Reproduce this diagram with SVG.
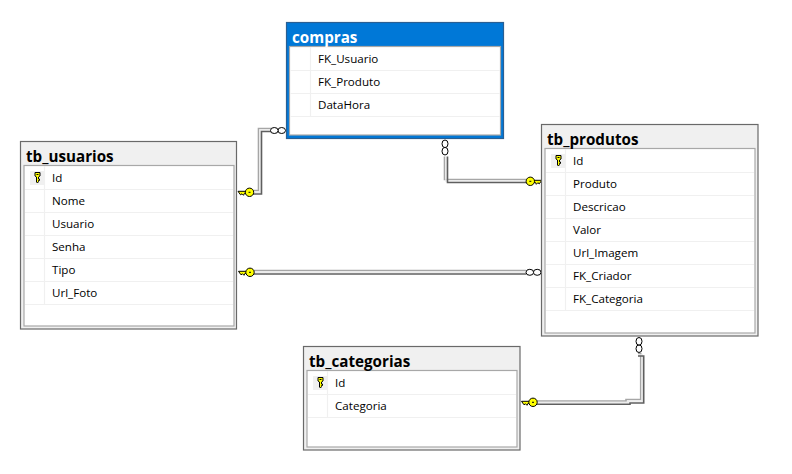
<svg xmlns="http://www.w3.org/2000/svg" xmlns:xlink="http://www.w3.org/1999/xlink" width="792" height="474" viewBox="0 0 792 474">
<style>
text{font-family:"Open Sans","Noto Sans","Liberation Sans",sans-serif}
.t{font-size:15.2px;font-weight:700;fill:#000}
.tw{font-size:15.2px;font-weight:700;fill:#fff}
.c{font-size:11.6px;fill:#000}
.o{fill:#f0f0f0;stroke:#696969;stroke-width:1.2}
.i{fill:#fff;stroke:#a8a8a8;stroke-width:1.2}
.r{stroke:#f0f0f0;stroke-width:1.2;fill:none}
.l1{fill:none;stroke:#a6a6a6;stroke-width:1.6}
.l2{fill:none;stroke:#5f5f5f;stroke-width:1.6}
.l0{fill:none;stroke:#ececec;stroke-width:1.6}
.ring{fill:#fff;stroke:#000;stroke-width:1}
.k{fill:#ffff00;stroke:#000;stroke-width:1}
</style>
<defs>
<g id="pk">
<rect x="-7.500" y="-7" width="15" height="14" fill="#f0f0f0"/>
<path class="k" d="M-2.500 -5.500 H2.500 V-2 L1 -1 V1 H2 V2.500 H1 V3.500 L0 5 L-1 4 V-1 L-2.500 -2Z"/>
<path d="M-1 -3.500H1" stroke="#000" stroke-width="1"/>
</g>
<g id="fk">
<path class="k" d="M-11.500 -1 H-3.500 V1 H-5 L-6 3 L-7.500 1.500 L-9 2.500 Z"/>
<circle class="k" cx="0" cy="0" r="4.200"/>
<path d="M-1 0H1" stroke="#000" stroke-width="1"/>
</g>
<g id="mm">
<ellipse class="ring" cx="3.700" cy="0" rx="3.800" ry="3"/>
<ellipse class="ring" cx="-3.700" cy="0" rx="3.800" ry="3"/>
</g>
</defs>
<rect width="792" height="474" fill="#fff"/>
<g id="connectors">
<g id="c-usuarios-compras">
<path class="l1" d="M253 190.500H258.500V128.500H271"/>
<path class="l0" d="M253 192.300H260V130H271"/>
<path class="l2" d="M253 194H261.500V131.500H271"/>
<use xlink:href="#fk" x="249.500" y="192.300"/>
<use xlink:href="#mm" x="278" y="130.500"/>
</g>
<g id="c-compras-produtos">
<path class="l1" d="M444.500 156.500V179.500H527"/>
<path class="l0" d="M446 156.500V181H527"/>
<path class="l2" d="M447.500 156.500V182.500H527"/>
<use xlink:href="#fk" transform="translate(530.300 181.300) scale(-1 1)"/>
<use xlink:href="#mm" transform="translate(445 147.500) rotate(90)"/>
</g>
<g id="c-usuarios-produtos">
<path class="l1" d="M254 270.500H526"/>
<path class="l0" d="M254 272.200H526"/>
<path class="l2" d="M254 274H526"/>
<use xlink:href="#fk" x="250" y="272.300"/>
<use xlink:href="#mm" x="533.500" y="272.300"/>
</g>
<g id="c-produtos-categorias">
<path class="l1" d="M638 353.500H640.700V399.500H626V401H537"/>
<path class="l0" d="M638 355H642.200V401H628V402.500H537"/>
<path class="l2" d="M638 356H643.700V403H630V404.300H537"/>
<use xlink:href="#fk" x="533" y="402.300"/>
<use xlink:href="#mm" transform="translate(639 345) rotate(90)"/>
</g>
</g>
<g id="tb_usuarios">
<rect class="o" x="20.500" y="141.500" width="216" height="187.500"/>
<rect class="i" x="24" y="165.500" width="210" height="160.500"/>
<path class="r" d="M25 189.500H233M25 212.500H233M25 235.500H233M25 258.500H233M25 281.500H233M25 304.500H233M44.500 166V304"/>
<text class="t" x="26" y="162">tb_usuarios</text>
<use xlink:href="#pk" x="37.500" y="178"/>
<text class="c" x="52" y="182">Id</text>
<text class="c" x="52" y="205">Nome</text>
<text class="c" x="52" y="228">Usuario</text>
<text class="c" x="52" y="251">Senha</text>
<text class="c" x="52" y="274">Tipo</text>
<text class="c" x="52" y="297">Url_Foto</text>
</g>
<g id="compras">
<rect x="286.500" y="22.500" width="217" height="116" fill="#0078d7" stroke="#2a5f93" stroke-width="1.200"/>
<rect class="i" x="289.500" y="46.500" width="211" height="88.500"/>
<path class="r" d="M290.500 70.500H500M290.500 93.500H500M290.500 116.500H500M310.500 47V116"/>
<text class="tw" x="292" y="43">compras</text>
<text class="c" x="318" y="63">FK_Usuario</text>
<text class="c" x="318" y="86">FK_Produto</text>
<text class="c" x="318" y="109">DataHora</text>
</g>
<g id="tb_produtos">
<rect class="o" x="541.500" y="124.500" width="216.500" height="211.500"/>
<rect class="i" x="545" y="148.500" width="210" height="184.500"/>
<path class="r" d="M546 172.500H754M546 195.500H754M546 218.500H754M546 241.500H754M546 264.500H754M546 287.500H754M546 310.500H754M565.500 149V310"/>
<text class="t" x="547" y="145">tb_produtos</text>
<use xlink:href="#pk" x="558.500" y="161"/>
<text class="c" x="573" y="165">Id</text>
<text class="c" x="573" y="188">Produto</text>
<text class="c" x="573" y="211">Descricao</text>
<text class="c" x="573" y="234">Valor</text>
<text class="c" x="573" y="257">Url_Imagem</text>
<text class="c" x="573" y="280">FK_Criador</text>
<text class="c" x="573" y="303">FK_Categoria</text>
</g>
<g id="tb_categorias">
<rect class="o" x="303.500" y="346.500" width="216.500" height="103.500"/>
<rect class="i" x="307" y="370.500" width="210" height="76.500"/>
<path class="r" d="M308 394.500H516M308 417.500H516M327.500 371V417"/>
<text class="t" x="309" y="367">tb_categorias</text>
<use xlink:href="#pk" x="320.500" y="383"/>
<text class="c" x="335" y="387">Id</text>
<text class="c" x="335" y="410">Categoria</text>
</g>
</svg>
